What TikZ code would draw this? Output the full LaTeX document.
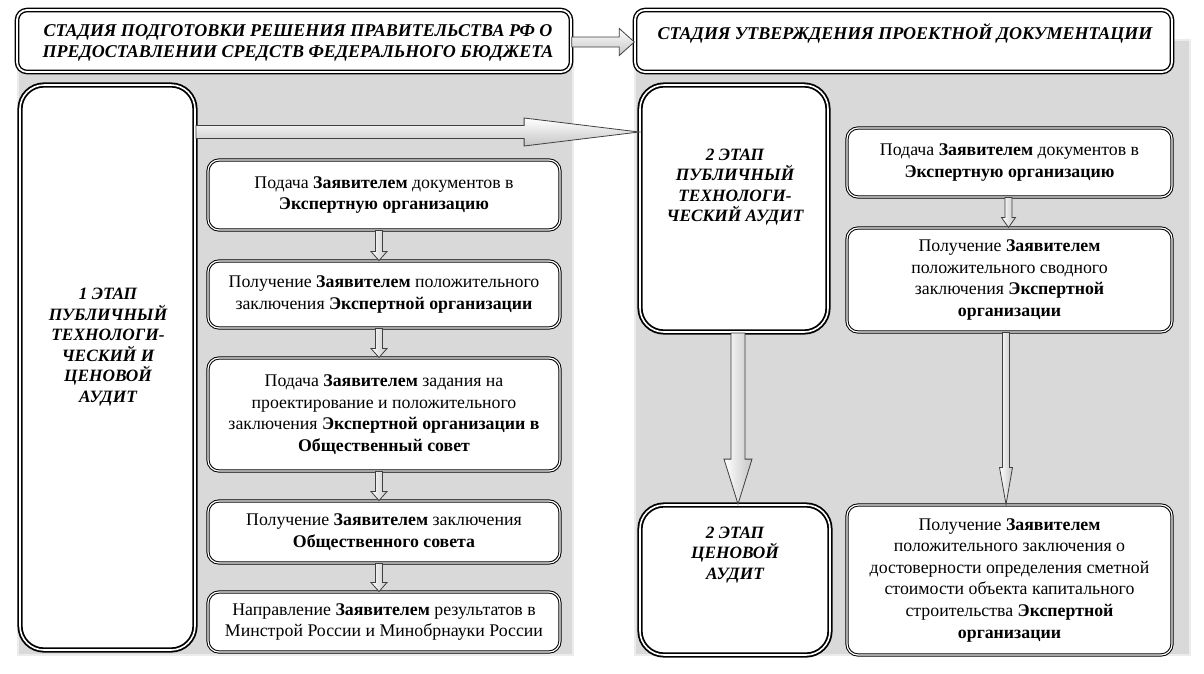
\documentclass[tikz,border=0pt]{standalone}
\usepackage{fontspec}
\setmainfont{Liberation Serif}
\usetikzlibrary{calc,shadows}
\definecolor{panelgray}{HTML}{D9D9D9}
\tikzset{
 panel/.style={fill=panelgray, draw=black!70, line width=0.7pt, double=white!85!gray, double distance=1.2pt},
 hdr/.style={draw=black, line width=1.4pt, double=white, double distance=1.8pt, fill=white, rounded corners=10pt, inner sep=0pt,
   drop shadow={shadow xshift=1.2pt, shadow yshift=-1.2pt, opacity=0.6}},
 hdrtxt/.style={font=\fontsize{18}{21}\selectfont\bfseries\itshape, align=center, inner sep=0pt},
 stepbox/.style={draw=black, line width=1pt, double=white, double distance=1.2pt, fill=white, rounded corners=11pt, align=center, font=\fontsize{17.8}{21.6}\selectfont, inner sep=0pt},
 stagebox/.style={draw=black, line width=1.8pt, double=white, double distance=1.6pt, fill=white, rounded corners=24pt, inner sep=0pt,
   drop shadow={shadow xshift=1.2pt, shadow yshift=-1.2pt, opacity=0.6}},
 stagetxt/.style={font=\fontsize{17.3}{20.5}\selectfont\bfseries\itshape, align=center, inner sep=0pt},
 blockv/.style={draw=black!75, line width=0.8pt, left color=white, right color=gray!45},
 blockh/.style={draw=black!75, line width=0.8pt, top color=white, bottom color=gray!45},
}
% vertical block arrow: start, end, xshift, shaft half width, head half width, head length
\newcommand\vblock[6]{\path[blockv] let \p1=(#1), \p2=(#2) in
 ({\x1+#3-#4},\y1) -- ({\x1+#3-#4},{\y2+#6}) -- ({\x1+#3-#5},{\y2+#6}) -- ({\x1+#3},\y2)
 -- ({\x1+#3+#5},{\y2+#6}) -- ({\x1+#3+#4},{\y2+#6}) -- ({\x1+#3+#4},\y1) -- cycle;}
% horizontal block arrow: start, end, yshift, shaft half width, head half width, head length
\newcommand\hblock[6]{\path[blockh] let \p1=(#1), \p2=(#2) in
 (\x1,{\y1+#3+#4}) -- ({\x2-#6},{\y1+#3+#4}) -- ({\x2-#6},{\y1+#3+#5}) -- (\x2,{\y1+#3})
 -- ({\x2-#6},{\y1+#3-#5}) -- ({\x2-#6},{\y1+#3-#4}) -- (\x1,{\y1+#3-#4}) -- cycle;}
\begin{document}
\begin{tikzpicture}[x=1pt,y=-1pt]
\useasboundingbox[fill=white] (0,0) rectangle (1204,673);
% panels
\path[panel] (18,40) rectangle (573,655);
\path[panel] (635,40) rectangle (1190,655);
% headers
\node[hdr, minimum width=554pt, minimum height=62pt] (H1) at (294,41) {};
\node[hdrtxt] (H1t) at (298,42.5) {СТАДИЯ ПОДГОТОВКИ РЕШЕНИЯ ПРАВИТЕЛЬСТВА РФ О\\ПРЕДОСТАВЛЕНИИ СРЕДСТВ ФЕДЕРАЛЬНОГО БЮДЖЕТА};
\node[hdr, minimum width=537pt, minimum height=62pt] (H2) at (903.5,41) {};
\node[hdrtxt] (H2t) at (905,33) {СТАДИЯ УТВЕРЖДЕНИЯ ПРОЕКТНОЙ ДОКУМЕНТАЦИИ};
% stage boxes
\node[stagebox, minimum width=175pt, minimum height=565pt] (S1) at (107.5,367.5) {};
\node[stagetxt] (S1t) at (108,347) {1 ЭТАП\\ПУБЛИЧНЫЙ\\ТЕХНОЛОГИ-\\ЧЕСКИЙ И\\ЦЕНОВОЙ\\АУДИТ};
\node[stagebox, minimum width=188pt, minimum height=247pt] (S2) at (734,208.5) {};
\node[stagetxt] (S2t) at (735,187) {2 ЭТАП\\ПУБЛИЧНЫЙ\\ТЕХНОЛОГИ-\\ЧЕСКИЙ АУДИТ};
\node[stagebox, minimum width=190pt, minimum height=150pt] (S3) at (735,580) {};
\node[stagetxt] (S3t) at (735,555) {2 ЭТАП\\ЦЕНОВОЙ\\АУДИТ};
% left column
\node[stepbox, minimum width=352pt, minimum height=70pt] (L1) at (384,195) {Подача \textbf{Заявителем} документов в\\\textbf{Экспертную организацию}};
\node[stepbox, minimum width=352pt, minimum height=67pt] (L2) at (384,294.5) {Получение \textbf{Заявителем} положительного\\заключения \textbf{Экспертной организации}};
\node[stepbox, minimum width=352pt, minimum height=113pt] (L3) at (384,414.5) {Подача \textbf{Заявителем} задания на\\проектирование и положительного\\заключения \textbf{Экспертной организации в}\\\textbf{Общественный совет}};
\node[stepbox, minimum width=352pt, minimum height=62pt] (L4) at (384,532) {Получение \textbf{Заявителем} заключения\\\textbf{Общественного совета}};
\node[stepbox, minimum width=352pt, minimum height=60pt] (L5) at (384,622) {Направление \textbf{Заявителем} результатов в\\Минстрой России и Минобрнауки России};
% right column
\node[stepbox, minimum width=325pt, minimum height=69pt] (R1) at (1009.5,162.5) {Подача \textbf{Заявителем} документов в\\\textbf{Экспертную организацию}};
\node[stepbox, minimum width=325pt, minimum height=104pt] (R2) at (1009.5,280) {Получение \textbf{Заявителем}\\положительного сводного\\заключения \textbf{Экспертной}\\\textbf{организации}};
\node[stepbox, minimum width=325pt, minimum height=150pt] (R3) at (1009.5,580) {Получение \textbf{Заявителем}\\положительного заключения о\\достоверности определения сметной\\стоимости объекта капитального\\строительства \textbf{Экспертной}\\\textbf{организации}};
% arrows
\hblock{H1.east}{H2.west}{-1pt}{5pt}{13.5pt}{15pt}
\coordinate (bigY) at (0,132);
\hblock{S1.east |- bigY}{S2.west |- bigY}{0pt}{6.5pt}{14pt}{115pt}
\vblock{L1.south}{L2.north}{-5pt}{3.5pt}{8pt}{9pt}
\vblock{L2.south}{L3.north}{-5pt}{3.5pt}{8pt}{9pt}
\vblock{L3.south}{L4.north}{-5pt}{3.5pt}{8pt}{9pt}
\vblock{L4.south}{L5.north}{-5pt}{3.5pt}{8pt}{9pt}
\vblock{R1.south}{R2.north}{-1pt}{3.5pt}{7pt}{10pt}
\vblock{S2.south}{S3.north}{4pt}{7pt}{14pt}{45pt}
\vblock{R2.south}{R3.north}{-3.5pt}{3.5pt}{6.5pt}{37pt}
\end{tikzpicture}
\end{document}
